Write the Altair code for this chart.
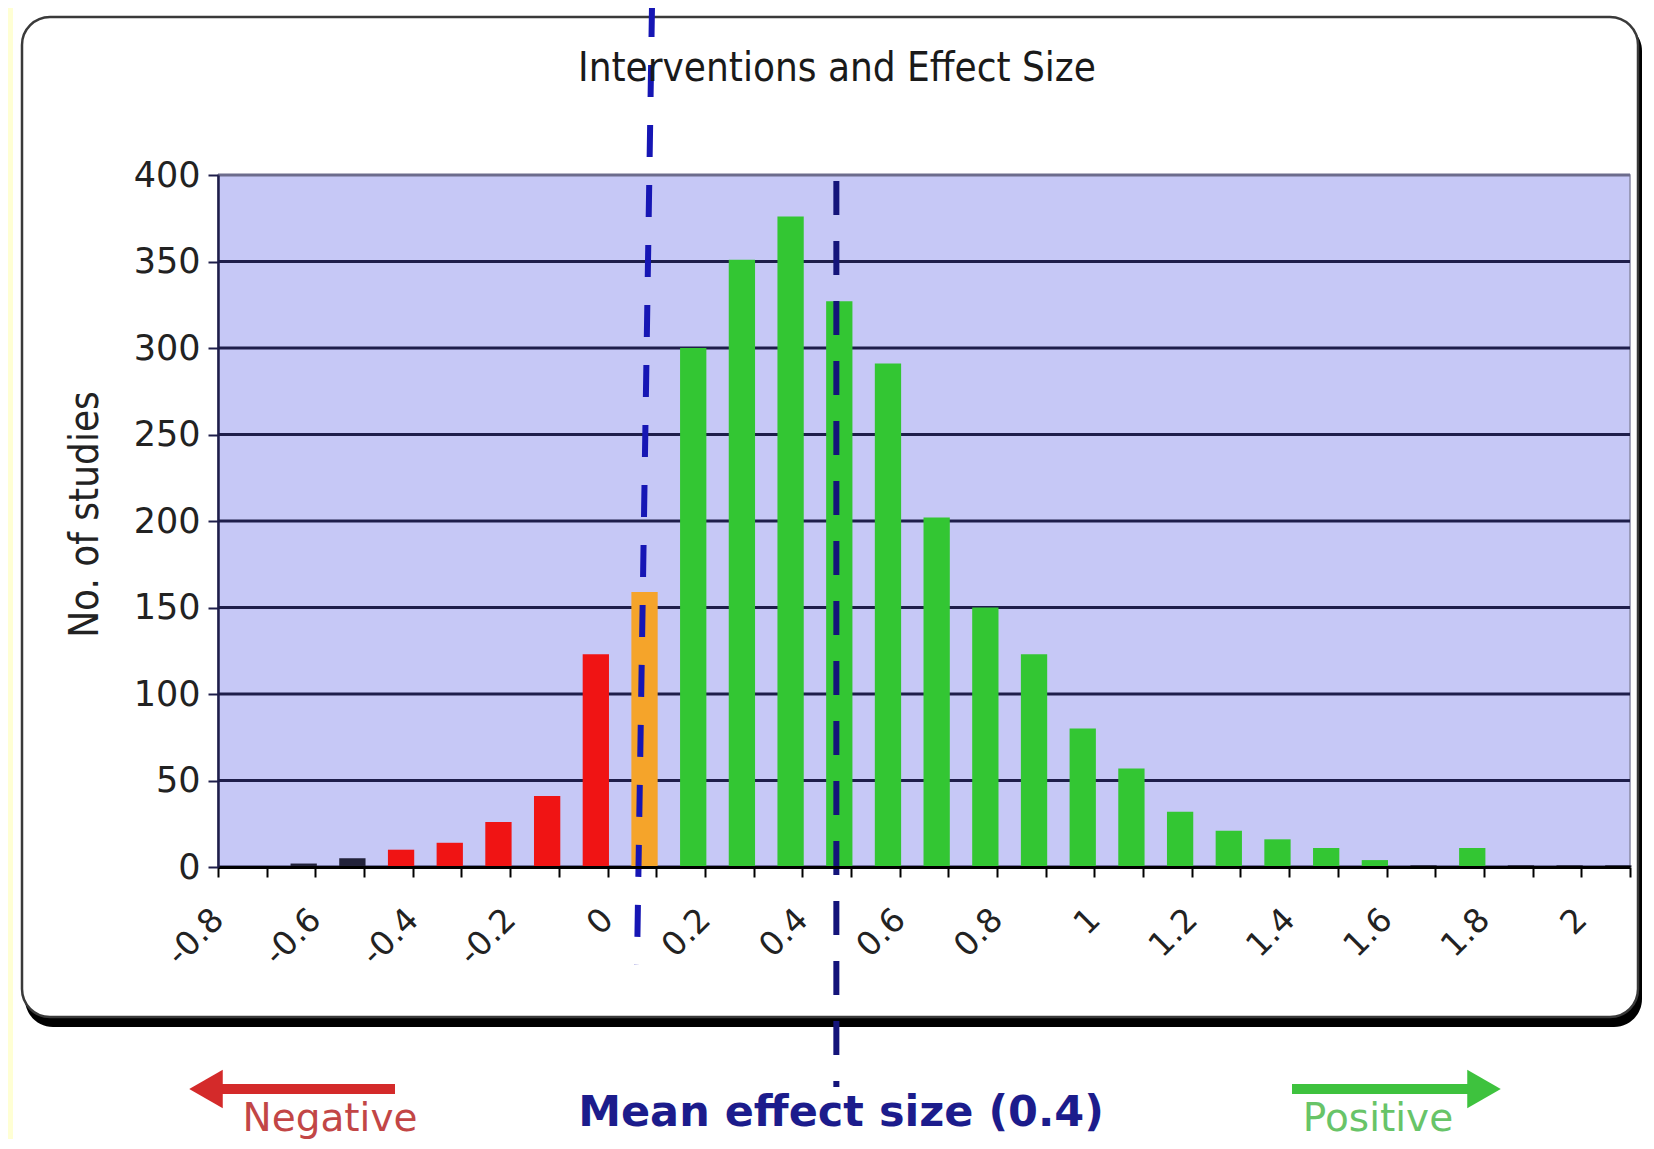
import json
import altair as alt
import pandas as pd

# ---------------- data ----------------
bin_start = [-0.8, -0.7, -0.6, -0.5, -0.4, -0.3, -0.2, -0.1, 0.0, 0.1, 0.2, 0.3, 0.4, 0.5,
             0.6, 0.7, 0.8, 0.9, 1.0, 1.1, 1.2, 1.3, 1.4, 1.5, 1.6, 1.7, 1.8, 1.9, 2.0]
counts = [0, 2, 5, 10, 14, 26, 41, 123, 159, 300, 351, 376, 327, 291,
          202, 150, 123, 80, 57, 32, 21, 16, 11, 4, 1, 11, 1, 1, 1]
groups = ["dark", "dark", "dark", "neg", "neg", "neg", "neg", "neg", "zero",
          "pos", "pos", "pos", "pos", "pos", "pos", "pos", "pos", "pos", "pos",
          "pos", "pos", "pos", "pos", "pos", "dark", "pos", "dark", "dark", "dark"]

x_ticks = [-0.8, -0.7, -0.6, -0.5, -0.4, -0.3, -0.2, -0.1, 0.0, 0.1, 0.2, 0.3, 0.4, 0.5, 0.6,
           0.7, 0.8, 0.9, 1.0, 1.1, 1.2, 1.3, 1.4, 1.5, 1.6, 1.7, 1.8, 1.9, 2.0, 2.1]
x_labels = [-0.8, -0.6, -0.4, -0.2, 0.0, 0.2, 0.4, 0.6, 0.8, 1.0, 1.2, 1.4, 1.6, 1.8, 2.0]
y_ticks = [0, 50, 100, 150, 200, 250, 300, 350, 400]

zero_line = [0.0914, 0.0605]   # dashed line near zero (top, bottom)
mean_effect = [0.47, 0.47]     # mean effect size line

title_text = "Interventions and Effect Size"
y_title = "No. of studies"
mean_text = "Mean effect size (0.4)"
neg_text = "Negative"
pos_text = "Positive"

# ---------------- layout constants ----------------
W, H = 1412, 692
BAR_L, BAR_R = 0.049, 0.103

bars_df = pd.DataFrame({
    "bin": bin_start,
    "count": counts,
    "group": groups,
})
bars_df["x0"] = bars_df["bin"] + BAR_L
bars_df["x1"] = bars_df["bin"] + BAR_R
bars_df["base"] = 0

xs = alt.Scale(domain=[-0.8, 2.1], nice=False, zero=False)
ys = alt.Scale(domain=[0, 400], nice=False)

label_expr = "indexof(%s, datum.value) >= 0 ? toString(datum.value) : ''" % json.dumps(x_labels)

x_axis = alt.Axis(values=x_ticks, labelExpr=label_expr, labelAngle=315, labelAlign="right",
                  labelBaseline="middle", labelPadding=37, labelFont="DejaVu Sans",
                  labelFontSize=33, labelColor="#222222", labelOverlap=False, labelFlush=False,
                  tickSize=10, tickWidth=2, tickColor="#000000", domainColor="#000000",
                  domainWidth=3, grid=False, title=None, zindex=1)
y_axis = alt.Axis(values=y_ticks, grid=False, tickSize=10, tickWidth=2, tickColor="#1e1e4a",
                  domainColor="#1e1e4a", domainWidth=2.5, labelFont="DejaVu Sans",
                  labelFontSize=35, labelColor="#222222", labelPadding=8,
                  title=y_title, titleFont="DejaVu Sans Condensed", titleFontSize=40,
                  titleFontWeight="normal", titleColor="#222222", titleAngle=270,
                  titleX=-133, titleY=339, titleAlign="center", titleBaseline="middle",
                  zindex=1)

one = pd.DataFrame({"k": [0]})

shadow = alt.Chart(one).mark_rect(cornerRadius=28, fill="#000000").encode(
    x=alt.value(-193), x2=alt.value(1424), y=alt.value(-152), y2=alt.value(852))
frame = alt.Chart(one).mark_rect(cornerRadius=28, fill="#ffffff", stroke="#3a3a3a",
                                 strokeWidth=2.5).encode(
    x=alt.value(-196), x2=alt.value(1420), y=alt.value(-158), y2=alt.value(842))
strip = alt.Chart(one).mark_rect(fill="#FFFFD4").encode(
    x=alt.value(-210), x2=alt.value(-205), y=alt.value(-167), y2=alt.value(970))
plotbg = alt.Chart(one).mark_rect(fill="#C6C8F6", stroke="#8a8aa6", strokeWidth=1.5).encode(
    x=alt.value(0), x2=alt.value(W), y=alt.value(0), y2=alt.value(H))

grid_df = pd.DataFrame({"g": y_ticks})
grid = alt.Chart(grid_df).mark_rule(strokeWidth=3).encode(
    y=alt.Y("g:Q", scale=ys, axis=y_axis),
    x=alt.value(0), x2=alt.value(W),
    color=alt.condition("datum.g == 400", alt.value("#6c6c8c"), alt.value("#1e1e4a")))

bars = alt.Chart(bars_df).mark_rect().encode(
    x=alt.X("x0:Q", scale=xs, axis=x_axis),
    x2="x1:Q",
    y=alt.Y("count:Q", scale=ys, axis=y_axis),
    y2="base:Q",
    color=alt.Color("group:N", legend=None,
                    scale=alt.Scale(domain=["dark", "neg", "zero", "pos"],
                                    range=["#22223a", "#F01414", "#F5A42A", "#33C633"])))

zl_df = pd.DataFrame({"xt": [zero_line[0]], "xb": [zero_line[1]]})
zl = alt.Chart(zl_df).mark_rule(strokeWidth=6, strokeDash=[32, 28], color="#1616B4").encode(
    x=alt.X("xt:Q", scale=xs, axis=x_axis), x2="xb:Q",
    y=alt.value(-170), y2=alt.value(790))

ml_df = pd.DataFrame({"xt": [mean_effect[0]], "xb": [mean_effect[1]]})
ml = alt.Chart(ml_df).mark_rule(strokeWidth=6, strokeDash=[34, 26], color="#14147A").encode(
    x=alt.X("xt:Q", scale=xs, axis=x_axis), x2="xb:Q",
    y=alt.value(6), y2=alt.value(912))


def label(text, x, y, size, color, font="DejaVu Sans", weight="normal", baseline="middle"):
    return alt.Chart(pd.DataFrame({"t": [text]})).mark_text(
        font=font, fontSize=size, fontWeight=weight, color=color, align="center",
        baseline=baseline).encode(text="t:N", x=alt.value(x), y=alt.value(y))


title = label(title_text, 619, -94, 40, "#1a1a1a", font="DejaVu Sans Condensed",
              baseline="alphabetic")
neg = label(neg_text, 112, 944, 39, "#C24646")
pos = label(pos_text, 1160, 944, 39, "#68C468")
mean = label(mean_text, 623, 938, 43, "#1C1C8C", weight="bold")

neg_shaft = alt.Chart(one).mark_rule(strokeWidth=10, color="#D42A2A").encode(
    x=alt.value(2), x2=alt.value(177), y=alt.value(914))
neg_head = alt.Chart(one).mark_point(shape="triangle-left", filled=True, size=1500,
                                     opacity=1, color="#D42A2A").encode(
    x=alt.value(-12), y=alt.value(914))
pos_shaft = alt.Chart(one).mark_rule(strokeWidth=10, color="#3EC23E").encode(
    x=alt.value(1074), x2=alt.value(1250), y=alt.value(914))
pos_head = alt.Chart(one).mark_point(shape="triangle-right", filled=True, size=1500,
                                     opacity=1, color="#3EC23E").encode(
    x=alt.value(1266), y=alt.value(914))

chart = alt.layer(
    shadow, frame, strip, plotbg, grid, bars, zl, ml, title, neg, pos, mean,
    neg_shaft, neg_head, pos_shaft, pos_head
).properties(
    width=W, height=H,
    autosize=alt.AutoSizeParams(type="none"),
    padding={"left": 210, "top": 167, "right": 12, "bottom": 272},
    background="#ffffff",
).configure_view(stroke=None)

chart.save("out.html", embed_options={"renderer": "svg", "actions": False})
